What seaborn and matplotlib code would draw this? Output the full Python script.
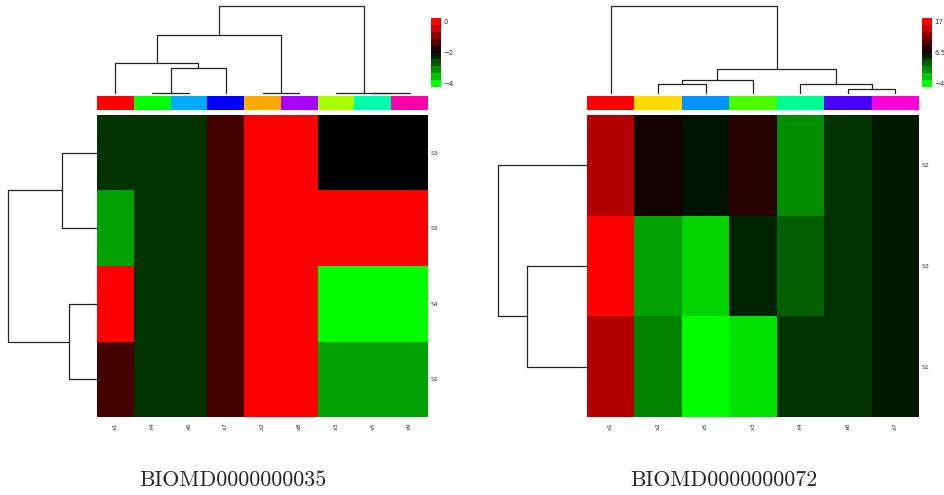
import numpy as np
import pandas as pd
import seaborn as sns
import matplotlib
matplotlib.use("Agg")
import matplotlib.pyplot as plt
from matplotlib.colors import LinearSegmentedColormap, ListedColormap

# ---------------- data ----------------
left_rows = ["S3", "S2", "S4", "S1"]
left_cols = ["x1", "x4", "x6", "x7", "x2", "x8", "x3", "x5", "x9"]
left_values = [
    [-2.45, -2.45, -2.45, -1.4, 0.2, 0.2, -2.0, -2.0, -2.0],
    [-3.4, -2.45, -2.45, -1.4, 0.2, 0.2, 0.2, 0.2, 0.2],
    [0.2, -2.45, -2.45, -1.4, 0.2, 0.2, -4.2, -4.2, -4.2],
    [-1.4, -2.45, -2.45, -1.4, 0.2, 0.2, -3.4, -3.4, -3.4],
]
left_col_colors = ["#FF0000", "#00FF00", "#00AAFF", "#0000FF", "#FFAA00",
                   "#AA00FF", "#AAFF00", "#00FFAA", "#FF00AA"]
left_col_linkage = [(1, 2, 0), (9, 3, 25), (0, 10, 30), (4, 5, 0),
                    (11, 12, 58), (7, 8, 0), (6, 14, 0), (13, 15, 86.6)]
left_row_linkage = [(0, 1, 35), (2, 3, 28), (4, 5, 89)]
left_range = (-4.222, 0.222)
left_cbar_ticks = [0, -2, -4]
left_cbar_labels = ["0", "\u22122", "\u22124"]
left_title = "BIOMD0000000035"

right_rows = ["S2", "S3", "S1"]
right_cols = ["x1", "x2", "x5", "x3", "x4", "x6", "x7"]
right_values = [
    [14.7, 7.4, 5.6, 8.3, 0.1, 4.2, 5.4],
    [18.0, -0.8, -3.1, 4.9, 2.2, 4.2, 5.4],
    [14.7, 0.5, -5.0, -3.8, 4.2, 4.2, 5.4],
]
right_col_colors = ["#FF0000", "#FFDB00", "#0092FF", "#49FF00", "#00FF92",
                    "#4900FF", "#FF00DB"]
right_col_linkage = [(1, 2, 9), (7, 3, 13), (5, 6, 4), (4, 9, 9),
                     (8, 10, 24), (0, 11, 86.6)]
right_row_linkage = [(1, 2, 60), (0, 3, 89)]
right_range = (-5.167, 18.167)
right_cbar_ticks = [17, 6.5, -4]
right_cbar_labels = ["17", "6.5", "\u22124"]
right_title = "BIOMD0000000072"

# ---------------- style ----------------
W, H = 944, 495
fig = plt.figure(figsize=(W / 100, H / 100), dpi=100)
sns.set_style("white")
plt.rcParams["font.family"] = ["DejaVu Sans"]

cmap = LinearSegmentedColormap.from_list("gbr", ["#00FF00", "#000000", "#FF0000"])
cbar_cmap = ListedColormap([cmap(i / 9) for i in range(10)])


def px_axes(x0, y0, x1, y1):
    return fig.add_axes([x0 / W, 1 - y1 / H, (x1 - x0) / W, (y1 - y0) / H])


def draw_dendro(ax, linkage, n, orientation, hmax):
    pos = {i: i + 0.5 for i in range(n)}
    hgt = {i: 0.0 for i in range(n)}
    for k, (a, b, h) in enumerate(linkage):
        xa, xb = pos[a], pos[b]
        ha, hb = hgt[a], hgt[b]
        xs = [xa, xa, xb, xb]
        ys = [ha, h, h, hb]
        if orientation == "top":
            ax.plot(xs, ys, color="#222222", lw=0.9, clip_on=False)
        else:
            ax.plot(ys, xs, color="#222222", lw=0.9, clip_on=False)
        pos[n + k] = (xa + xb) / 2
        hgt[n + k] = h
    if orientation == "top":
        ax.set_xlim(0, n)
        ax.set_ylim(0, hmax)
    else:
        ax.set_ylim(n, 0)
        ax.set_xlim(hmax, 0)
    ax.axis("off")


def panel(x0, x1, dendro_x0, rows, cols, values, col_colors, col_link, row_link,
          vrange, cticks, clabels, title, title_x):
    hm_top, hm_bot = 115, 417
    df = pd.DataFrame(values, index=rows, columns=cols)
    ax = px_axes(x0, hm_top, x1, hm_bot)
    sns.heatmap(df, ax=ax, cmap=cmap, vmin=vrange[0], vmax=vrange[1],
                cbar=False, xticklabels=True, yticklabels=True)
    ax.yaxis.tick_right()
    ax.tick_params(axis="y", length=0, pad=2, labelsize=4.5, labelrotation=0,
                   colors="#333333")
    ax.tick_params(axis="x", length=0, pad=4, labelsize=4.5, labelrotation=90,
                   colors="#333333")
    ax.set_xlabel("")
    ax.set_ylabel("")

    # column colour strip
    axc = px_axes(x0, 96, x1, 110)
    sns.heatmap(np.arange(len(cols)).reshape(1, -1), ax=axc,
                cmap=ListedColormap(col_colors), vmin=-0.5, vmax=len(cols) - 0.5,
                cbar=False, xticklabels=False, yticklabels=False)

    # column dendrogram
    axd = px_axes(x0, 6, x1, 93)
    draw_dendro(axd, col_link, len(cols), "top", 87)

    # row dendrogram
    axr = px_axes(dendro_x0, hm_top, x0, hm_bot)
    draw_dendro(axr, row_link, len(rows), "left", x0 - dendro_x0)

    # colour key
    axk = px_axes(x1 + 3, 18, x1 + 13, 87)
    sns.heatmap(np.arange(10)[::-1].reshape(-1, 1), ax=axk, cmap=cbar_cmap,
                vmin=-0.5, vmax=9.5, cbar=False, xticklabels=False)
    vmin, vmax = vrange
    axk.set_yticks([(vmax - t) / (vmax - vmin) * 10 for t in cticks])
    axk.set_yticklabels(clabels)
    axk.yaxis.tick_right()
    axk.tick_params(axis="y", length=0, pad=1.5, labelsize=5, labelrotation=0,
                    colors="#333333")

    fig.text(title_x / W, 1 - 480 / H, title, ha="center", va="center",
             fontfamily="cmr10", fontsize=15.8)


panel(97, 428, 8, left_rows, left_cols, left_values, left_col_colors,
      left_col_linkage, left_row_linkage, left_range, left_cbar_ticks,
      left_cbar_labels, left_title, 233)
panel(587, 919, 498, right_rows, right_cols, right_values, right_col_colors,
      right_col_linkage, right_row_linkage, right_range, right_cbar_ticks,
      right_cbar_labels, right_title, 724)

fig.savefig("out.png", dpi=100)
